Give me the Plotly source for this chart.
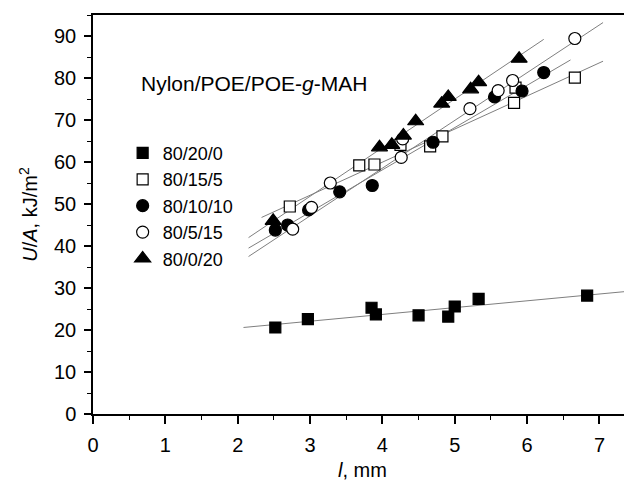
import plotly.graph_objects as go

# measured values (l in mm, U/A in kJ/m2)
names = ["80/20/0", "80/15/5", "80/10/10", "80/5/15", "80/0/20"]

x_20_0 = [2.52, 2.97, 3.85, 3.91, 4.50, 4.91, 5.00, 5.33, 6.83]
y_20_0 = [20.6, 22.6, 25.3, 23.7, 23.5, 23.2, 25.6, 27.4, 28.2]

x_15_5 = [2.72, 3.68, 3.89, 4.25, 4.66, 4.83, 5.82, 5.84, 6.66]
y_15_5 = [49.4, 59.2, 59.4, 64.1, 63.7, 66.1, 74.1, 77.7, 80.1]

x_10_10 = [2.52, 2.69, 2.98, 3.41, 3.86, 4.70, 5.55, 5.93, 6.23]
y_10_10 = [43.8, 45.0, 48.6, 52.9, 54.4, 64.7, 75.5, 76.9, 81.3]

x_5_15 = [2.76, 3.02, 3.28, 4.26, 4.28, 5.21, 5.60, 5.80, 6.66]
y_5_15 = [44.0, 49.2, 55.0, 61.1, 65.5, 72.7, 77.0, 79.4, 89.4]

x_0_20 = [2.49, 3.96, 4.13, 4.29, 4.46, 4.82, 4.91, 5.22, 5.33, 5.89]
y_0_20 = [46.0, 63.5, 64.1, 66.3, 69.7, 73.9, 75.5, 77.3, 79.0, 84.6]

# fitted straight lines, end points
fit_x = [[2.08, 7.45], [2.33, 7.05], [2.15, 6.60], [2.15, 7.05], [2.15, 6.23]]
fit_y = [[20.6, 29.3], [46.8, 84.0], [39.5, 84.3], [37.5, 93.2], [42.0, 89.2]]

xs = [x_20_0, x_15_5, x_10_10, x_5_15, x_0_20]
ys = [y_20_0, y_15_5, y_10_10, y_5_15, y_0_20]

symbols = ["square", "square", "circle", "circle", "triangle-up"]
fills = ["black", "white", "black", "white", "black"]
sizes = [11, 11, 12, 12, 14]

font = "Arial, Liberation Sans, sans-serif"

fig = go.Figure()

for fx, fy in zip(fit_x, fit_y):
    fig.add_trace(go.Scatter(x=fx, y=fy, mode="lines", showlegend=False,
                             line=dict(color="#7f7f7f", width=1), hoverinfo="skip"))

for name, x, y, s, c, sz in zip(names, xs, ys, symbols, fills, sizes):
    fig.add_trace(go.Scatter(x=x, y=y, mode="markers", name=name,
                             marker=dict(symbol=s, color=c, size=sz,
                                         line=dict(color="black", width=1.2))))

fig.add_annotation(x=0.63, y=78.7, xref="x", yref="y", xanchor="left", yanchor="middle",
                   text="Nylon/POE/POE-<i>g</i>-MAH", showarrow=False,
                   font=dict(size=21, color="black", family=font))

# page body has an 8px margin, so the figure is 8px smaller than the window
fig.update_layout(
    width=624, height=479,
    margin=dict(l=85, r=0, t=7, b=73),
    paper_bgcolor="white", plot_bgcolor="white",
    font=dict(family=font, size=20, color="black"),
    legend=dict(x=0.055, y=0.70, xanchor="left", yanchor="top",
                bgcolor="rgba(0,0,0,0)", font=dict(size=18)),
)

fig.update_xaxes(range=[0, 7.45], dtick=1, tick0=0, showgrid=False, zeroline=False,
                 showline=True, linecolor="black", linewidth=1.5, mirror=True,
                 ticks="outside", ticklen=8, tickwidth=1.5, tickcolor="black",
                 ticklabelstandoff=4, automargin=False,
                 minor=dict(dtick=0.5, ticks="outside", ticklen=4, tickwidth=1.2, tickcolor="black"),
                 title=dict(text="<i>l</i>, mm", font=dict(size=20), standoff=8))

fig.update_yaxes(range=[0, 95], dtick=10, tick0=0, showgrid=False, zeroline=False,
                 showline=True, linecolor="black", linewidth=1.5,
                 ticks="outside", ticklen=7, tickwidth=1.5, tickcolor="black",
                 ticklabelstandoff=4, automargin=False,
                 minor=dict(dtick=5, ticks="outside", ticklen=4, tickwidth=1.2, tickcolor="black"),
                 title=dict(text="<i>U</i>/<i>A</i>, kJ/m<sup>2</sup>", font=dict(size=20), standoff=11))

fig.write_html("out.html")
